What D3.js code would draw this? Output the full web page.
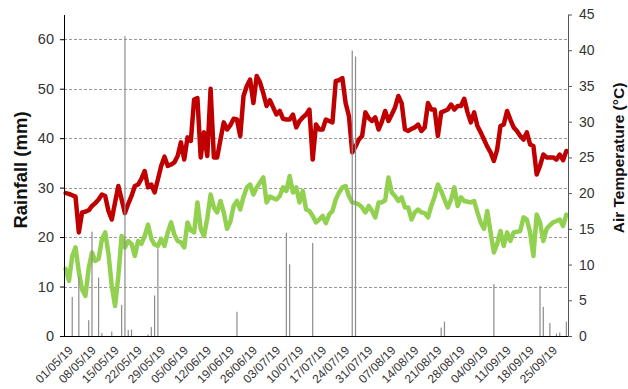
<!DOCTYPE html>
<html>
<head>
<meta charset="utf-8">
<script src="https://cdn.jsdelivr.net/npm/d3@7"></script>
<style>
  html, body { margin: 0; padding: 0; background: #fff; }
  svg { display: block; font-family: "Liberation Sans", Arial, sans-serif; }
</style>
</head>
<body>
<svg id="chart" width="628" height="389"></svg>
<script>
// Daily weather record, 01/05/2019 – 30/09/2019
const startDate = new Date(2019, 4, 1);
const dayCount = 153;

// Rainfall events (mm)
const rainDates = ["03/05/19","05/05/19","08/05/19","09/05/19","11/05/19","12/05/19","15/05/19",
  "18/05/19","19/05/19","20/05/19","21/05/19","26/05/19","27/05/19","28/05/19","29/05/19",
  "22/06/19","07/07/19","08/07/19","15/07/19","27/07/19","28/07/19","23/08/19","24/08/19",
  "08/09/19","22/09/19","23/09/19","25/09/19","27/09/19","28/09/19","30/09/19"];
const rainMm = [7.9, 12.0, 3.2, 21.1, 11.8, 0.6, 0.9,
  6.3, 60.6, 1.2, 1.3, 0.3, 1.8, 8.2, 17.7,
  4.9, 20.9, 14.5, 18.8, 57.7, 56.5, 1.7, 2.9,
  10.5, 10.1, 5.9, 2.6, 0.5, 0.7, 2.9];

// Daily maximum air temperature (°C)
const tMax = [
  20.0, 19.9, 19.7, 19.5, 14.5, 17.3, 17.4, 17.6, 18.2, 18.6,
  19.1, 19.8, 19.6, 17.5, 16.3, 18.7, 21.0, 19.1, 17.2, 18.5,
  19.6, 21.0, 21.2, 22.0, 23.1, 20.8, 21.2, 20.1, 21.9, 23.8,
  25.1, 23.8, 24.0, 24.3, 25.2, 27.1, 24.7, 27.8, 27.3, 33.1,
  33.3, 25.0, 28.5, 25.2, 34.6, 25.0, 25.0, 27.5, 29.9, 28.9,
  29.5, 30.4, 30.3, 28.0, 33.6, 35.0, 35.9, 32.6, 36.4, 35.5,
  34.0, 32.2, 33.0, 32.0, 31.0, 31.5, 30.4, 30.3, 30.3, 31.0,
  29.2, 30.1, 30.6, 31.0, 31.7, 24.7, 29.6, 28.9, 28.9, 30.3,
  30.1, 29.9, 35.7, 35.8, 36.1, 32.6, 30.8, 25.7, 26.5, 27.5,
  28.0, 31.3, 30.5, 30.1, 30.6, 28.9, 30.0, 31.5, 30.1, 31.0,
  32.0, 33.6, 32.6, 28.9, 28.7, 29.0, 29.2, 29.6, 28.7, 29.2,
  32.6, 31.7, 31.7, 28.0, 31.3, 31.5, 31.7, 32.4, 31.7, 32.2,
  32.2, 33.2, 31.3, 29.9, 31.3, 29.4, 28.5, 27.5, 26.5, 25.7,
  24.5, 26.1, 29.4, 29.6, 31.5, 30.3, 29.2, 28.7, 28.0, 27.5,
  28.5, 26.8, 26.6, 22.6, 23.8, 25.4, 25.0, 25.0, 25.0, 24.7,
  25.4, 24.6, 25.9
];

// Daily minimum air temperature (°C)
const tMin = [
  9.4, 7.7, 11.2, 12.4, 9.0, 6.5, 5.6, 9.5, 11.7, 10.5,
  10.8, 13.5, 14.5, 11.5, 7.0, 4.2, 8.4, 14.0, 12.4, 13.3,
  12.9, 11.2, 13.3, 12.9, 14.0, 15.6, 13.6, 12.8, 12.6, 13.6,
  12.6, 14.5, 15.9, 14.2, 13.3, 13.1, 12.4, 15.9, 14.8, 14.5,
  18.7, 15.0, 14.0, 16.5, 19.8, 18.0, 17.3, 18.9, 17.3, 15.0,
  16.0, 18.2, 18.9, 17.7, 19.5, 20.8, 21.2, 19.8, 20.8, 21.5,
  22.2, 18.7, 19.5, 19.3, 19.1, 19.6, 20.8, 20.3, 22.4, 20.1,
  20.8, 18.7, 20.3, 17.7, 17.5, 16.8, 15.9, 16.3, 16.8, 15.8,
  17.0, 17.5, 19.1, 20.1, 20.8, 21.0, 19.6, 18.7, 18.6, 18.4,
  18.0, 17.3, 18.2, 17.5, 16.6, 18.7, 18.7, 19.0, 22.2, 20.1,
  19.6, 18.9, 19.4, 18.0, 18.0, 16.3, 17.3, 17.7, 17.3, 17.2,
  16.6, 18.2, 19.5, 21.2, 20.3, 19.1, 18.0, 19.1, 20.8, 18.2,
  19.4, 18.9, 18.8, 18.7, 18.9, 17.3, 15.9, 15.0, 17.5, 14.5,
  11.7, 12.9, 14.7, 12.6, 14.5, 13.3, 14.5, 14.6, 14.7, 16.6,
  16.3, 14.5, 11.2, 17.0, 15.9, 13.3, 15.0, 15.5, 15.9, 16.1,
  16.3, 15.4, 17.0
];

// Weekly date labels on the x axis
const tickLabels = ["01/05/19","08/05/19","15/05/19","22/05/19","29/05/19","05/06/19",
  "12/06/19","19/06/19","26/06/19","03/07/19","10/07/19","17/07/19","24/07/19","31/07/19",
  "07/08/19","14/08/19","21/08/19","28/08/19","04/09/19","11/09/19","18/09/19","25/09/19"];

const rainTicks = [0, 10, 20, 30, 40, 50, 60];
const tempTicks = [0, 5, 10, 15, 20, 25, 30, 35, 40, 45];

// ---- layout ----
const plotLeft = 64, plotRight = 568, plotTop = 14.5, plotBottom = 336;

const fmt = d3.timeFormat("%d/%m/%y");
const parse = d3.timeParse("%d/%m/%y");
const days = d3.range(dayCount).map(i => fmt(d3.timeDay.offset(startDate, i)));

const x = d3.scaleBand().domain(days).range([plotLeft, plotRight]).padding(0);
const xc = d => x(d) + x.bandwidth() / 2;
const yRain = d3.scaleLinear().domain([0, 65]).range([plotBottom, plotTop]);
const yTemp = d3.scaleLinear().domain([0, 45]).range([plotBottom, plotTop]);

const svg = d3.select("#chart");

// dashed horizontal gridlines on rainfall ticks
svg.append("g")
  .selectAll("line")
  .data(rainTicks.filter(v => v > 0))
  .join("line")
  .attr("x1", plotLeft).attr("x2", plotRight)
  .attr("y1", d => Math.round(yRain(d)) + 0.5).attr("y2", d => Math.round(yRain(d)) + 0.5)
  .attr("stroke", "#999").attr("stroke-width", 1)
  .attr("stroke-dasharray", "3,2");

// temperature lines
const line = d3.line().x((d, i) => xc(days[i])).y(d => yTemp(d)).curve(d3.curveLinear);

svg.append("path")
  .datum(tMin)
  .attr("d", line)
  .attr("fill", "none")
  .attr("stroke", "#92d050")
  .attr("stroke-width", 4.5)
  .attr("stroke-linejoin", "round")
  .attr("stroke-linecap", "round");

svg.append("path")
  .datum(tMax)
  .attr("d", line)
  .attr("fill", "none")
  .attr("stroke", "#c00000")
  .attr("stroke-width", 4.5)
  .attr("stroke-linejoin", "round")
  .attr("stroke-linecap", "round");

// rainfall bars
const rain = rainDates.map((d, i) => ({ date: fmt(parse(d)), mm: rainMm[i] }));
svg.append("g")
  .selectAll("rect")
  .data(rain)
  .join("rect")
  .attr("x", d => xc(d.date) - 0.6)
  .attr("width", 1.2)
  .attr("y", d => yRain(d.mm))
  .attr("height", d => plotBottom - yRain(d.mm))
  .attr("fill", "#8c8c8c");

// left axis (rainfall)
const axL = svg.append("g")
  .attr("transform", `translate(${plotLeft},0)`)
  .call(d3.axisLeft(yRain).tickValues(rainTicks).tickSize(4).tickSizeOuter(0).tickPadding(6));
axL.select(".domain").attr("stroke", "#000");
axL.selectAll(".tick line").attr("stroke", "#000");
axL.selectAll(".tick text").attr("font-size", 14.5).attr("fill", "#333")
  .attr("font-family", "'Liberation Sans', Arial, sans-serif");

// right axis (temperature)
const axR = svg.append("g")
  .attr("transform", `translate(${plotRight},0)`)
  .call(d3.axisRight(yTemp).tickValues(tempTicks).tickSize(4).tickSizeOuter(0).tickPadding(7));
axR.select(".domain").attr("stroke", "#555");
axR.selectAll(".tick line").attr("stroke", "#555");
axR.selectAll(".tick text").attr("font-size", 14).attr("fill", "#333")
  .attr("font-family", "'Liberation Sans', Arial, sans-serif");

// bottom axis with rotated weekly labels
const weekly = tickLabels.map(t => fmt(parse(t)));
const axB = svg.append("g")
  .attr("transform", `translate(0,${plotBottom})`)
  .call(d3.axisBottom(x).tickValues(weekly).tickSize(0).tickSizeOuter(0).tickFormat((d, i) => tickLabels[i]));
axB.select(".domain").attr("stroke", "#000").attr("d", `M${plotLeft},0.5H${plotRight}`);
axB.selectAll(".tick text")
  .attr("font-size", 12).attr("fill", "#333")
  .attr("font-family", "'Liberation Sans', Arial, sans-serif")
  .attr("text-anchor", "end")
  .attr("transform", "translate(5,12) rotate(-45)")
  .attr("dy", "0.35em")
  .attr("y", 0).attr("x", 0);

// axis titles
svg.append("text")
  .attr("transform", "translate(27,170) rotate(-90)")
  .attr("text-anchor", "middle")
  .attr("font-size", 18.5).attr("font-weight", "bold").attr("fill", "#111")
  .text("Rainfall (mm)");

svg.append("text")
  .attr("transform", "translate(624,158) rotate(-90)")
  .attr("text-anchor", "middle")
  .attr("font-size", 15.5).attr("font-weight", "bold").attr("fill", "#111")
  .text("Air Temperature (°C)");
</script>
</body>
</html>
